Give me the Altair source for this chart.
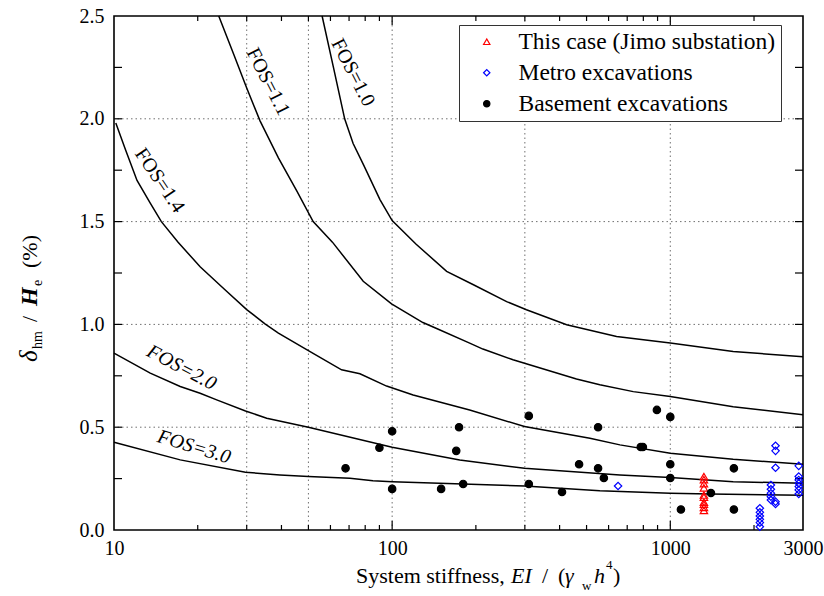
import altair as alt
import pandas as pd

# ---------------- FOS design curves: system stiffness vs delta_hm/He (%) ----------------
fos_10_x = [56, 61.4, 67.5, 72.4, 79, 90.4, 100, 122, 157, 196, 258, 304, 424, 641, 1000, 1683, 3000]
fos_10_y = [2.50, 2.255, 2.00, 1.88, 1.775, 1.607, 1.505, 1.39, 1.258, 1.193, 1.111, 1.071, 0.998, 0.941, 0.909, 0.868, 0.843]

fos_11_x = [23.8, 27, 30, 33.5, 39, 45.4, 52, 61, 78.7, 99.5, 129, 144.5, 190, 212, 272, 460, 558, 736, 1000, 1683, 3000]
fos_11_y = [2.50, 2.31, 2.15, 1.99, 1.81, 1.65, 1.50, 1.40, 1.21, 1.10, 1.009, 0.98, 0.909, 0.88, 0.828, 0.734, 0.706, 0.673, 0.649, 0.60, 0.56]

fos_14_x = [10.15, 11, 12.1, 13.5, 14.8, 17, 20.4, 25, 30, 34.9, 39, 50.7, 65.8, 76.6, 95.5, 119, 190, 299, 514, 659, 1000, 1683, 3000]
fos_14_y = [1.98, 1.85, 1.70, 1.59, 1.50, 1.40, 1.28, 1.17, 1.072, 1.003, 0.958, 0.868, 0.779, 0.76, 0.70, 0.657, 0.584, 0.503, 0.446, 0.414, 0.373, 0.344, 0.32]

fos_20_x = [10, 13.5, 17.3, 20.4, 23.4, 29.7, 35.4, 50, 100, 175, 299, 659, 1000, 1683, 3000]
fos_20_y = [0.86, 0.763, 0.698, 0.665, 0.633, 0.579, 0.544, 0.50, 0.403, 0.341, 0.30, 0.268, 0.255, 0.235, 0.227]

fos_30_x = [10, 17.3, 29.7, 39.5, 50, 70.5, 85.3, 100, 299, 558, 1000, 1387, 3000]
fos_30_y = [0.427, 0.341, 0.281, 0.268, 0.26, 0.252, 0.24, 0.235, 0.214, 0.191, 0.179, 0.175, 0.169]

# curve labels (position in data units, rotation in degrees)
label_text = ["FOS=1.0", "FOS=1.1", "FOS=1.4", "FOS=2.0", "FOS=3.0"]
label_x = [72.3, 35.8, 14.6, 17.5, 19.4]
label_y = [2.225, 2.18, 1.70, 0.79, 0.404]
label_angle = [63, 63, 56, 28, 17]
label_italic = [False, False, False, True, True]

# ---------------- case histories ----------------
jimo_x = [1321, 1321, 1321, 1321, 1321, 1321, 1321, 1321, 1321, 1321]
jimo_y = [0.26, 0.245, 0.225, 0.205, 0.17, 0.16, 0.135, 0.125, 0.11, 0.095]

metro_x = [649,
           2099, 2099, 2099, 2099, 2099, 2099,
           2300, 2300, 2300, 2300, 2300,
           2390, 2390, 2390, 2390, 2390,
           2896, 2896, 2896, 2896, 2896, 2896, 2896]
metro_y = [0.214,
           0.106, 0.086, 0.068, 0.052, 0.036, 0.016,
           0.219, 0.198, 0.179, 0.162, 0.146,
           0.41, 0.385, 0.303, 0.138, 0.127,
           0.312, 0.26, 0.243, 0.227, 0.211, 0.195, 0.175]

basement_x = [68, 90, 100, 100, 150, 170, 174, 180, 310, 310, 408, 470, 550, 550, 577,
              783, 797, 895, 1000, 1000, 1000, 1092, 1400, 1693, 1693]
basement_y = [0.30, 0.40, 0.48, 0.20, 0.20, 0.385, 0.50, 0.224, 0.555, 0.224, 0.185, 0.32, 0.50, 0.30, 0.253,
              0.404, 0.404, 0.584, 0.55, 0.32, 0.253, 0.10, 0.18, 0.30, 0.10]

series_names = ["This case (Jimo substation)", "Metro excavations", "Basement excavations"]

# ---------------- axes, ticks and grid ----------------
x_labels = [10, 100, 1000, 3000]
y_labels = [0.0, 0.5, 1.0, 1.5, 2.0, 2.5]
x_minor_ticks = [20, 30, 40, 50, 60, 70, 80, 90, 200, 300, 400, 500, 600, 700, 800, 900, 2000]
x_major_ticks = [100, 1000]
y_ticks = [0.25, 0.5, 0.75, 1.0, 1.25, 1.5, 1.75, 2.0, 2.25]
x_grid = [30, 50, 100, 300, 1000]
y_grid = [0.5, 1.0, 1.5, 2.0]

FONT = "Liberation Serif"
LEFT, TOP, W, H = 114, 16, 689, 514

# ---------------- tables ----------------
curve_rows = []
for name, xs, ys in [("1.0", fos_10_x, fos_10_y), ("1.1", fos_11_x, fos_11_y),
                     ("1.4", fos_14_x, fos_14_y), ("2.0", fos_20_x, fos_20_y),
                     ("3.0", fos_30_x, fos_30_y)]:
    for i, (xv, yv) in enumerate(zip(xs, ys)):
        curve_rows.append({"fos": name, "i": i, "x": xv, "y": yv})
curves_df = pd.DataFrame(curve_rows)

labels_df = pd.DataFrame({"label": label_text, "x": label_x, "y": label_y,
                          "angle": label_angle, "italic": label_italic})

pts_df = pd.concat([
    pd.DataFrame({"x": jimo_x, "y": jimo_y, "series": series_names[0]}),
    pd.DataFrame({"x": metro_x, "y": metro_y, "series": series_names[1]}),
    pd.DataFrame({"x": basement_x, "y": basement_y, "series": series_names[2]}),
], ignore_index=True)

# ---------------- encodings ----------------
xscale = alt.Scale(type="log", domain=[10, 3000], nice=False)
yscale = alt.Scale(domain=[0, 2.5], nice=False, zero=False)

X = alt.X("x:Q", scale=xscale,
          axis=alt.Axis(values=x_labels, format="d", title=None, grid=False, ticks=False,
                        domain=False, labelFont=FONT, labelFontSize=20, labelColor="black",
                        labelPadding=8, labelFlush=False, labelOverlap=False))
Y = alt.Y("y:Q", scale=yscale,
          axis=alt.Axis(values=y_labels, format=".1f", title=None, grid=False, ticks=False,
                        domain=False, labelFont=FONT, labelFontSize=20, labelColor="black",
                        labelPadding=10, labelFlush=False, labelOverlap=False))

grid_style = dict(color="#707070", strokeDash=[1.5, 3], strokeWidth=1)
grid_v = alt.Chart(pd.DataFrame({"x": x_grid})).mark_rule(**grid_style).encode(x=X)
grid_h = alt.Chart(pd.DataFrame({"y": y_grid})).mark_rule(**grid_style).encode(y=Y)

tick_style = dict(color="black", strokeWidth=1.2)
ticks_xb_min = alt.Chart(pd.DataFrame({"x": x_minor_ticks})).mark_rule(**tick_style).encode(
    x=X, y=alt.value(H), y2=alt.value(H - 5))
ticks_xb_maj = alt.Chart(pd.DataFrame({"x": x_major_ticks})).mark_rule(**tick_style).encode(
    x=X, y=alt.value(H), y2=alt.value(H - 9))
ticks_xt_min = alt.Chart(pd.DataFrame({"x": x_minor_ticks})).mark_rule(**tick_style).encode(
    x=X, y=alt.value(0), y2=alt.value(5))
ticks_xt_maj = alt.Chart(pd.DataFrame({"x": x_major_ticks})).mark_rule(**tick_style).encode(
    x=X, y=alt.value(0), y2=alt.value(9))
ticks_yl = alt.Chart(pd.DataFrame({"y": y_ticks})).mark_rule(**tick_style).encode(
    y=Y, x=alt.value(0), x2=alt.value(8))
ticks_yr = alt.Chart(pd.DataFrame({"y": y_ticks})).mark_rule(**tick_style).encode(
    y=Y, x=alt.value(W - 8), x2=alt.value(W))

curves = alt.Chart(curves_df).mark_line(color="black", strokeWidth=1.5).encode(
    x=X, y=Y, detail="fos:N", order=alt.Order("i:Q"))

labels_up = alt.Chart(labels_df).transform_filter("!datum.italic").mark_text(
    font=FONT, fontSize=20, align="center", baseline="middle", color="black").encode(
    x=X, y=Y, text="label:N", angle=alt.Angle("angle:Q", scale=None))
labels_it = alt.Chart(labels_df).transform_filter("datum.italic").mark_text(
    font=FONT, fontSize=20, fontStyle="italic", align="center", baseline="middle", color="black").encode(
    x=X, y=Y, text="label:N", angle=alt.Angle("angle:Q", scale=None))

leg = alt.Legend(title=None, orient="none", legendX=345, legendY=9,
                 labelFont=FONT, labelFontSize=23.5, labelColor="black", labelLimit=500,
                 strokeColor="#333333", fillColor="white", padding=5, rowPadding=6,
                 symbolOffset=11, labelOffset=20, symbolStrokeWidth=1.2, symbolSize=40)

points = alt.Chart(pts_df).mark_point(size=55, strokeWidth=1.2, opacity=1).encode(
    x=X, y=Y,
    shape=alt.Shape("series:N", scale=alt.Scale(domain=series_names,
                                               range=["triangle-up", "diamond", "circle"]), legend=leg),
    stroke=alt.Stroke("series:N", scale=alt.Scale(domain=series_names,
                                                 range=["#ff0000", "#0000ff", "#000000"]), legend=leg),
    fill=alt.Fill("series:N", scale=alt.Scale(domain=series_names,
                                             range=["transparent", "transparent", "#000000"]), legend=leg),
)


def piece(txt, px, py, size, style="normal", weight="normal", angle=0):
    """A fragment of an axis title, placed in page pixels."""
    return alt.Chart(alt.Data(values=[{"t": txt}])).mark_text(
        font=FONT, fontSize=size, fontStyle=style, fontWeight=weight, angle=angle,
        align="left", baseline="alphabetic", color="black").encode(
        x=alt.value(px - LEFT), y=alt.value(py - TOP), text="t:N")


# x-axis title: System stiffness, EI / (gamma_w h^4)
x_title = [
    piece("System stiffness,", 356, 583, 22),
    piece("EI", 511, 583, 22, style="italic"),
    piece("/", 542, 583, 22),
    piece("(", 558, 583, 22),
    piece("γ", 565, 583, 22, style="italic"),
    piece("w", 582, 590, 13),
    piece("h", 594, 583, 22, style="italic"),
    piece("4", 606, 569, 13),
    piece(")", 613, 583, 22),
]

# y-axis title: delta_hm / H_e  (%), rotated to read upwards
y_title = [
    piece("δ", 37, 362, 25, style="italic", angle=270),
    piece("hm", 42, 349, 14, angle=270),
    piece("/", 37, 322, 22, angle=270),
    piece("H", 37, 306, 24, style="italic", weight="bold", angle=270),
    piece("e", 42, 286, 14, angle=270),
    piece("(%)", 37, 268, 22, angle=270),
]

chart = alt.layer(
    grid_v, grid_h,
    ticks_xb_min, ticks_xb_maj, ticks_xt_min, ticks_xt_maj, ticks_yl, ticks_yr,
    curves, labels_up, labels_it, points,
    *x_title, *y_title,
).properties(
    width=W, height=H,
    autosize=alt.AutoSizeParams(type="none"),
    padding={"left": LEFT, "top": TOP, "right": 824 - LEFT - W, "bottom": 596 - TOP - H},
    background="white",
).configure_view(stroke="black", strokeWidth=1.6)

chart.save("out.html", embed_options={"renderer": "svg", "actions": False})
